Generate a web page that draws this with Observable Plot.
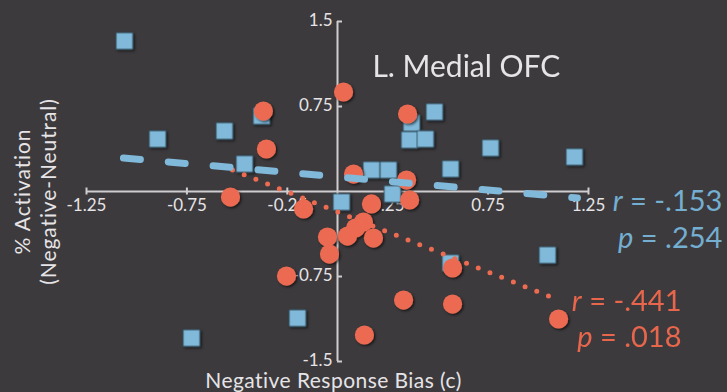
<!DOCTYPE html>
<html><head><meta charset="utf-8">
<script src="https://cdn.jsdelivr.net/npm/d3@7"></script>
<script src="https://cdn.jsdelivr.net/npm/@observablehq/plot@0.6"></script>
<style>
html,body{margin:0;padding:0;background:#3c3a3d;}
#chart svg{display:block;overflow:visible;}
</style></head><body><div id="chart"></div>
<script>
// Blue squares (one condition)
const blueX = [-1.061,-0.896,-0.563,-0.378,-0.463,0.020,0.169,0.254,0.274,0.369,0.359,0.438,0.483,0.762,1.180,0.563,0.563,1.046,-0.199,-0.727];
const blueY = [1.328,0.463,0.534,0.666,0.243,-0.093,0.190,0.190,-0.022,0.605,0.455,0.463,0.702,0.384,0.305,0.199,-0.631,-0.561,-1.117,-1.293];
// Orange circles (other condition)
const orangeX = [0.030,-0.369,0.349,-0.354,-0.533,0.080,0.344,0.359,-0.169,0.169,0.129,0.090,0.050,0.179,-0.050,-0.040,-0.254,0.573,0.329,0.573,0.134,1.101];
const orangeY = [0.878,0.710,0.684,0.375,-0.049,0.154,0.101,-0.075,-0.154,-0.110,-0.269,-0.322,-0.393,-0.411,-0.402,-0.552,-0.746,-0.675,-0.958,-0.993,-1.266,-1.125];
// Fit lines (endpoints)
const blueFitX = [-1.066, 1.195];
const blueFitY = [0.296, -0.057];
const orangeFitX = [-0.523, 1.076];
const orangeFitY = [0.19, -0.940];
// Axes
const xExtent = [-1.25, 1.25];
const yExtent = [-1.5, 1.5];
const xTicks = [-1.25,-0.75,-0.25,0.25,0.75,1.25];
const xTickLabels = ["-1.25","-0.75","-0.25","0.25","0.75","1.25"];
const yTicks = [1.5,0.75,-0.75,-1.5];
const yTickLabels = ["1.5","0.75","-0.75","-1.5"];
// Texts
const titleText = "L. Medial OFC";
const titlePos = [0.174, 1.099];
const xTitle = "Negative Response Bias (c)";
const yTitle = "% Activation\n(Negative-Neutral)";
const blueStats = ["r = -.153","p = .254"];
const blueStatsX = [1.917, 1.917];
const blueStatsY = [-0.093, -0.419];
const orangeStats = ["r = -.441","p = .018"];
const orangeStatsX = [1.713, 1.713];
const orangeStatsY = [-0.975, -1.293];

const BLUE = "#80b9d9", ORANGE = "#ec6b51", AXIS = "#cfcdcf", TEXT = "#e6e4e6";
const FONT = "Lato, 'Open Sans', sans-serif";

const blue = blueX.map((x,i)=>({x, y: blueY[i]}));
const orange = orangeX.map((x,i)=>({x, y: orangeY[i]}));
const blueFit = blueFitX.map((x,i)=>({x, y: blueFitY[i]}));
const orangeFit = orangeFitX.map((x,i)=>({x, y: orangeFitY[i]}));

const plot = Plot.plot({
  width: 727, height: 392,
  marginLeft: 86, marginRight: 139, marginTop: 21, marginBottom: 31,
  style: {background: "#3c3a3d", fontFamily: FONT, color: TEXT},
  x: {domain: xExtent, axis: null},
  y: {domain: yExtent, axis: null},
  marks: [
    Plot.ruleY([0], {x1: xExtent[0], x2: xExtent[1], stroke: AXIS, strokeWidth: 2}),
    Plot.ruleX([0], {y1: yExtent[0], y2: yExtent[1], stroke: AXIS, strokeWidth: 2}),
    Plot.ruleX(xTicks, {x: d=>d, y1: 0, y2: 0, insetTop: -3.5, insetBottom: -3.5, stroke: AXIS, strokeWidth: 2}),
    Plot.ruleY(yTicks, {y: d=>d, x1: 0, x2: 0, insetLeft: 0, insetRight: -5, stroke: AXIS, strokeWidth: 2}),
    Plot.text(xTicks, {x: d=>d, y: 0, text: (d,i)=>xTickLabels[i], dy: 14, fontSize: 17, fill: TEXT}),
    Plot.text(yTicks, {x: 0, y: d=>d, text: (d,i)=>yTickLabels[i], dx: -5, dy: -1, textAnchor: "end", fontSize: 17, fill: TEXT}),
    Plot.dot(blue, {x: "x", y: "y", symbol: "square", r: 9.4, fill: BLUE, stroke: "#2c4756", strokeWidth: 0.8}),
    Plot.dot(orange, {x: "x", y: "y", r: 9.6, fill: ORANGE}),
    Plot.line(orangeFit, {x: "x", y: "y", stroke: ORANGE, strokeWidth: 5, strokeLinecap: "round", strokeDasharray: "0,12.6"}),
    Plot.line(blueFit, {x: "x", y: "y", stroke: BLUE, strokeWidth: 7, strokeLinecap: "round", strokeDasharray: "17,28"}),
    Plot.text([titleText], {x: titlePos[0], y: titlePos[1], text: d=>d, textAnchor: "start", fontSize: 30, fill: TEXT}),
    Plot.text([xTitle], {frameAnchor: "bottom", dy: 26.5, dx: -4, text: d=>d, textAnchor: "middle", fontSize: 21, fill: TEXT}),
    Plot.text([yTitle], {frameAnchor: "left", dx: -52, rotate: -90, text: d=>d, textAnchor: "middle", fontSize: 21, lineHeight: 1.25, fill: TEXT}),
    Plot.text(blueStats, {x: (d,i)=>blueStatsX[i], y: (d,i)=>blueStatsY[i], text: d=>d, textAnchor: "end", fontSize: 29, fill: "#74aed0"}),
    Plot.text(orangeStats, {x: (d,i)=>orangeStatsX[i], y: (d,i)=>orangeStatsY[i], text: d=>d, textAnchor: "end", fontSize: 29, fill: "#e8664b"})
  ]
});

const svg = d3.select(plot.tagName.toLowerCase() === "svg" ? plot : plot.querySelector("svg"));
const defs = svg.insert("defs", ":first-child");
const f = defs.append("filter").attr("id","shadow").attr("x","-50%").attr("y","-50%").attr("width","200%").attr("height","200%");
f.append("feDropShadow").attr("dx",1.5).attr("dy",1.5).attr("stdDeviation",1.2).attr("flood-color","#000").attr("flood-opacity",0.6);
svg.selectAll('g[aria-label="dot"]').attr("filter","url(#shadow)");
// letter spacing for axis titles
svg.selectAll("text").each(function(){
  if (this.textContent === xTitle) d3.select(this).style("letter-spacing","0.45px");
});
svg.selectAll("tspan").each(function(){
  const t = this.textContent;
  if (t.startsWith("% Activation") || t.startsWith("(Negative")) d3.select(this.parentNode).style("letter-spacing","0.9px");
});
// italic r and p
svg.selectAll("text").each(function(){
  const t = this.textContent;
  if (/^[rp] = /.test(t) && this.children.length === 0) {
    this.textContent = "";
    const s = d3.select(this);
    s.append("tspan").attr("font-style","italic").text(t[0]);
    s.append("tspan").text(t.slice(1));
  }
});
document.getElementById("chart").append(plot);
</script>
</body></html>
